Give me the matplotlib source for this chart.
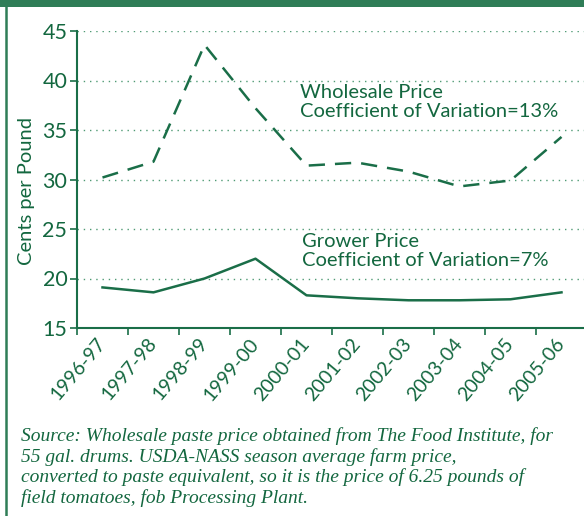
import matplotlib
matplotlib.use("Agg")
import matplotlib.pyplot as plt
from matplotlib.lines import Line2D
from matplotlib.patches import Rectangle
import numpy as np

seasons = ["1996-97", "1997-98", "1998-99", "1999-00", "2000-01",
           "2001-02", "2002-03", "2003-04", "2004-05", "2005-06"]
wholesale = [30.2, 31.8, 43.6, 37.2, 31.4, 31.7, 30.8, 29.3, 29.9, 34.3]
grower = [19.1, 18.6, 20.0, 22.0, 18.3, 18.0, 17.8, 17.8, 17.9, 18.6]
yticks = [15, 20, 25, 30, 35, 40, 45]

TXT = "#13673f"
LINE = "#1a6e48"
BAR = "#2f7d57"
GRID = "#4f9a74"

plt.rcParams['font.family'] = ['Lato', 'DejaVu Sans']

fig = plt.figure(figsize=(5.84, 5.16), dpi=100)
W, H = 584, 516

# frame: top bar and left rule
fig.add_artist(Rectangle((0, 1 - 7 / H), 1, 7 / H, transform=fig.transFigure,
                         color=BAR, lw=0))
fig.add_artist(Line2D([6 / W, 6 / W], [0, 1], transform=fig.transFigure,
                      color=BAR, lw=1.8))

left, right, top, bottom = 77, 587, 31, 328
ax = fig.add_axes([left / W, 1 - bottom / H, (right - left) / W, (bottom - top) / H])

x = np.arange(len(seasons))
ax.plot(x, wholesale, color=LINE, lw=1.8, dashes=(6.5, 4))
ax.plot(x, grower, color=LINE, lw=1.8)

ax.set_xlim(-0.5, len(seasons) - 0.5)
ax.set_ylim(15, 45)
ax.set_yticks(yticks)
ax.set_yticklabels([str(v) for v in yticks], fontsize=15.5, color=TXT)
for v in yticks[1:]:
    ax.axhline(v, color=GRID, lw=1.0, ls=(0, (1, 3.5)), zorder=0)

ax.set_xticks(np.arange(len(seasons) + 1) - 0.5)
ax.set_xticklabels([])
ax.set_xticks(x, minor=True)
ax.set_xticklabels(seasons, minor=True, rotation=50, ha='right', va='center',
                   rotation_mode='anchor', fontsize=14, color=TXT)
ax.tick_params(axis='x', which='minor', length=0, pad=9)
ax.tick_params(axis='x', which='major', length=5, width=1.2, color=LINE)
ax.tick_params(axis='y', length=5, width=1.2, color=LINE, pad=2)

for s in ['top', 'right']:
    ax.spines[s].set_visible(False)
for s in ['left', 'bottom']:
    ax.spines[s].set_color(LINE)
    ax.spines[s].set_linewidth(1.5)

ax.set_ylabel("Cents per Pound", fontsize=14.5, color=TXT)
ax.yaxis.set_label_coords(-42 / (right - left), 0.46)

ax.text(300 / W, 1 - 84 / H, "Wholesale Price\nCoefficient of Variation=13%",
        transform=fig.transFigure, fontsize=14.5, color=TXT, va='top', ha='left',
        linespacing=1.15)
ax.text(302 / W, 1 - 233 / H, "Grower Price\nCoefficient of Variation=7%",
        transform=fig.transFigure, fontsize=14.5, color=TXT, va='top', ha='left',
        linespacing=1.15)

source = ("Source: Wholesale paste price obtained from The Food Institute, for\n"
          "55 gal. drums. USDA-NASS season average farm price,\n"
          "converted to paste equivalent, so it is the price of 6.25 pounds of\n"
          "field tomatoes, fob Processing Plant.")
fig.text(21 / W, 1 - 427 / H, source, fontsize=14, style='italic',
         family=['Liberation Serif', 'DejaVu Serif'], color=TXT,
         va='top', ha='left', linespacing=1.2)

fig.savefig("out.png", dpi=100)
